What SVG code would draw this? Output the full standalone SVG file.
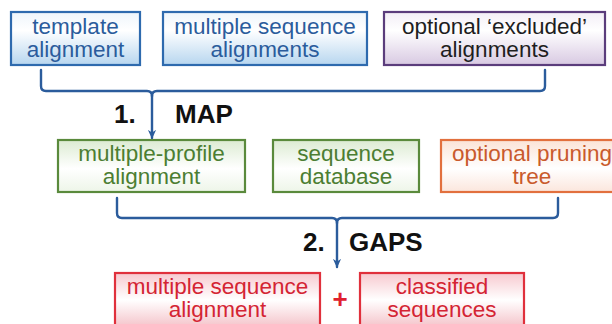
<svg xmlns="http://www.w3.org/2000/svg" width="612" height="324" viewBox="0 0 612 324">
<defs>
<style>
.box{stroke-width:2.2}
.t{font-family:"Liberation Sans",Arial,sans-serif;font-size:22.5px;text-anchor:middle}
.lbl{font-family:"Liberation Sans",Arial,sans-serif;font-size:26px;font-weight:bold;fill:#111}
.con{fill:none;stroke:#2b5c9c;stroke-width:2.4;stroke-linecap:round}
</style>
<linearGradient id="gBlue" x1="0" y1="0" x2="0" y2="1"><stop offset="0" stop-color="#eef5fb"/><stop offset="0.35" stop-color="#ffffff"/><stop offset="1" stop-color="#b7d6ef"/></linearGradient>
<linearGradient id="gPurple" x1="0" y1="0" x2="0" y2="1"><stop offset="0" stop-color="#f3eef6"/><stop offset="0.35" stop-color="#ffffff"/><stop offset="1" stop-color="#d8c9e2"/></linearGradient>
<linearGradient id="gGreen" x1="0" y1="0" x2="0" y2="1"><stop offset="0" stop-color="#dcebd2"/><stop offset="0.55" stop-color="#ffffff"/><stop offset="1" stop-color="#edf5e8"/></linearGradient>
<linearGradient id="gOrange" x1="0" y1="0" x2="0" y2="1"><stop offset="0" stop-color="#fbe3d6"/><stop offset="0.55" stop-color="#ffffff"/><stop offset="1" stop-color="#fbe6dc"/></linearGradient>
<linearGradient id="gRed" x1="0" y1="0" x2="0" y2="1"><stop offset="0" stop-color="#f7c9cf"/><stop offset="0.45" stop-color="#ffffff"/><stop offset="1" stop-color="#f2b6be"/></linearGradient>
<marker id="arr" viewBox="0 0 10 10" refX="9" refY="5" markerWidth="9" markerHeight="9" markerUnits="userSpaceOnUse" orient="auto">
<path d="M0,0.5 L10,5 L0,9.5 L3,5 Z" fill="#2b5c9c"/>
</marker>
</defs>
<rect width="612" height="324" fill="#ffffff"/>

<g id="connectors">
<path class="con" d="M41,70 V86 Q41,91 46,91 H147 Q152,91 152,96"/>
<path class="con" d="M545,70 V86 Q545,91 540,91 H157 Q152,91 152,96"/>
<line class="con" x1="152" y1="96" x2="152" y2="138" marker-end="url(#arr)"/>
<path class="con" d="M117,198 V213 Q117,218 122,218 H332 Q337,218 337,223"/>
<path class="con" d="M558,198 V213 Q558,218 553,218 H342 Q337,218 337,223"/>
<line class="con" x1="337" y1="223" x2="337" y2="267" marker-end="url(#arr)"/>
</g>

<g id="template-alignment">
<rect class="box" x="11" y="12" width="129" height="53" fill="url(#gBlue)" stroke="#2e6aae"/>
<text class="t" x="75.5" y="33.5" fill="#2b5c9c">template</text>
<text class="t" x="75.5" y="57" fill="#2b5c9c">alignment</text>
</g>

<g id="multiple-sequence-alignments">
<rect class="box" x="163" y="12" width="204" height="53" fill="url(#gBlue)" stroke="#2e6aae"/>
<text class="t" x="265" y="33.5" fill="#2b5c9c">multiple sequence</text>
<text class="t" x="265" y="57" fill="#2b5c9c">alignments</text>
</g>

<g id="excluded-alignments">
<rect class="box" x="384" y="12" width="221" height="53" fill="url(#gPurple)" stroke="#5b3d7c"/>
<text class="t" x="494.5" y="33.5" fill="#1e1e1e">optional ‘excluded’</text>
<text class="t" x="494.5" y="57" fill="#1e1e1e">alignments</text>
</g>

<g id="step1-label">
<text class="lbl" x="114" y="123">1.</text>
<text class="lbl" x="175" y="123">MAP</text>
</g>

<g id="multiple-profile-alignment">
<rect class="box" x="58" y="140" width="187" height="52" fill="url(#gGreen)" stroke="#5a8a3c"/>
<text class="t" x="151.5" y="160.5" fill="#4c7e32">multiple-profile</text>
<text class="t" x="151.5" y="184" fill="#4c7e32">alignment</text>
</g>

<g id="sequence-database">
<rect class="box" x="273" y="140" width="146" height="52" fill="url(#gGreen)" stroke="#5a8a3c"/>
<text class="t" x="346" y="160.5" fill="#4c7e32">sequence</text>
<text class="t" x="346" y="184" fill="#4c7e32">database</text>
</g>

<g id="pruning-tree">
<rect class="box" x="441" y="140" width="190" height="52" fill="url(#gOrange)" stroke="#e2703e"/>
<text class="t" x="532" y="160.5" fill="#c95a2c">optional pruning</text>
<text class="t" x="532" y="184" fill="#c95a2c">tree</text>
</g>

<g id="step2-label">
<text class="lbl" x="303" y="251">2.</text>
<text class="lbl" x="349" y="251">GAPS</text>
</g>

<g id="result-msa">
<rect class="box" x="115" y="273" width="205" height="60" fill="url(#gRed)" stroke="#e0303c"/>
<text class="t" x="217.5" y="293.5" fill="#d42433">multiple sequence</text>
<text class="t" x="217.5" y="317" fill="#d42433">alignment</text>
</g>

<g id="plus">
<text x="340" y="308" font-family="Liberation Sans, Arial, sans-serif" font-size="26" font-weight="bold" fill="#e0202e" text-anchor="middle">+</text>
</g>

<g id="classified-sequences">
<rect class="box" x="360" y="273" width="164" height="60" fill="url(#gRed)" stroke="#e0303c"/>
<text class="t" x="442" y="293.5" fill="#d42433">classified</text>
<text class="t" x="442" y="317" fill="#d42433">sequences</text>
</g>
</svg>
